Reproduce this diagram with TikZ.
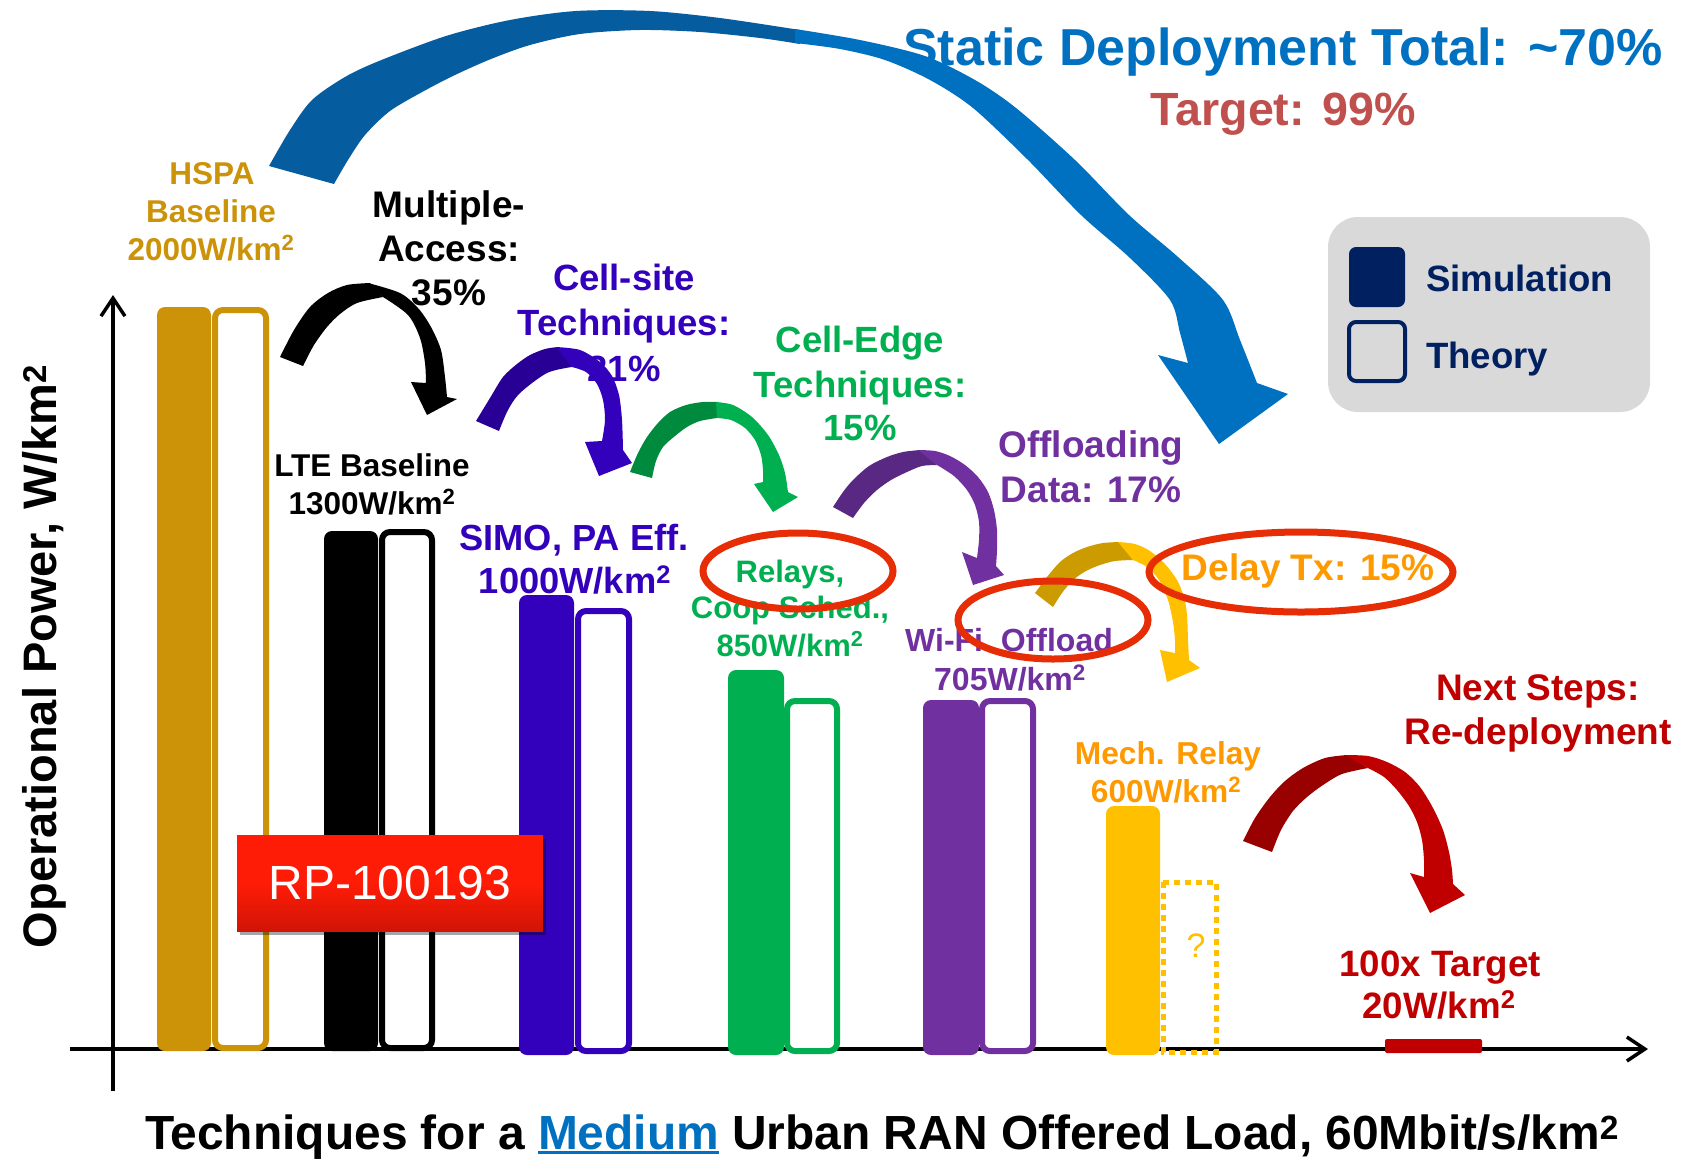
\documentclass[tikz,border=0pt]{standalone}
\usepackage{fontspec}
\setmainfont{Liberation Sans}
\usetikzlibrary{arrows.meta,shadows}

\definecolor{hspaGold}{RGB}{204,146,8}
\definecolor{simoBlue}{RGB}{51,0,187}
\definecolor{simoDark}{RGB}{40,0,150}
\definecolor{edgeGreen}{RGB}{0,176,80}
\definecolor{edgeDark}{RGB}{0,138,62}
\definecolor{offPurple}{RGB}{112,48,160}
\definecolor{offDark}{RGB}{88,40,130}
\definecolor{mechYellow}{RGB}{255,192,0}
\definecolor{mechDark}{RGB}{204,155,0}
\definecolor{mechOrange}{RGB}{255,153,0}
\definecolor{nextRed}{RGB}{192,0,0}
\definecolor{nextDark}{RGB}{153,0,0}
\definecolor{totalBlue}{RGB}{0,112,192}
\definecolor{totalDark}{RGB}{5,92,158}
\definecolor{targetRed}{RGB}{192,80,77}
\definecolor{ringRed}{RGB}{230,45,5}
\definecolor{legendGray}{RGB}{217,217,217}
\definecolor{navy}{RGB}{0,32,96}
\definecolor{rpTop}{RGB}{255,28,6}
\definecolor{rpBottom}{RGB}{208,20,6}

\newcommand\fs[1]{\fontsize{#1}{#1}\selectfont}
\newcommand\sqr{\textsuperscript{2}}
\newcommand\ulbox[1]{\setbox0=\hbox{#1}\rlap{\rule[-5pt]{\wd0}{3pt}}\box0}

\tikzset{
  lbl/.style={anchor=base, inner sep=0pt, outer sep=0pt},
  simbar/.style={rounded corners=8pt},
  thybar/.style={draw, line width=6pt, fill=white, rounded corners=8pt},
  axisline/.style={line width=3.5pt, -{Straight Barb[length=18pt,width=24pt]}},
  ring/.style={draw=ringRed, line width=7pt},
  rpbox/.style={minimum width=306pt, minimum height=96pt, inner sep=0pt,
    top color=rpTop, bottom color=rpBottom, middle color=rpTop, text=white,
    font=\fs{48},
    drop shadow={shadow xshift=3pt, shadow yshift=-4pt, opacity=0.35, fill=black}},
}

\begin{document}
\begin{tikzpicture}[x=1pt,y=-1pt]
\useasboundingbox (0,0) rectangle (1686,1160);

% ---------- axes ----------
\coordinate (ybot) at (113,1091);
\coordinate (ytop) at (113,295);
\coordinate (xleft) at (70,1049);
\coordinate (xright) at (1648,1049);
\draw[axisline] (ybot) -- (ytop);
\draw[axisline] (xleft) -- (xright);

% ---------- bars: simulation (filled) and theory (outlined) ----------
\fill[hspaGold, simbar] (157,307) rectangle (211,1051);
\draw[hspaGold, thybar] (215,310) rectangle (266,1048);
\fill[black, simbar] (324,531) rectangle (378,1051);
\draw[black, thybar] (382,532) rectangle (432,1048);
\fill[simoBlue, simbar] (519,595) rectangle (574,1055);
\draw[simoBlue, thybar] (578,611) rectangle (629,1051);
\fill[edgeGreen, simbar] (728,670) rectangle (784,1055);
\draw[edgeGreen, thybar] (787,701) rectangle (837,1051);
\fill[offPurple, simbar] (923,700) rectangle (979,1055);
\draw[offPurple, thybar] (982,701) rectangle (1033,1051);
\fill[mechYellow, simbar] (1106,806) rectangle (1160,1055);
\draw[mechYellow, line width=5pt, dash pattern=on 6pt off 5pt] (1163,882) rectangle (1216,1052);
\fill[nextRed, rounded corners=2pt] (1385,1039) rectangle (1482,1053);

% ---------- document tag ----------
\node[rpbox] (rp) at (390,883) {RP-100193};

% ---------- legend ----------
\fill[legendGray, rounded corners=30pt] (1328,217) rectangle (1650,412);
\fill[navy, rounded corners=7pt] (1349,247) rectangle (1405,307);
\draw[navy, line width=4pt, rounded corners=7pt] (1349,322) rectangle (1405,381);

% ---------- big curved arrow (static deployment total) ----------
\fill[totalDark] plot[smooth] coordinates {(269,166) (290,130) (312,100) (345,77) (379,61) (446,36) (510,20) (576,11) (650,11) (720,18) (800,30)}
  -- plot[smooth] coordinates {(800,44) (760,38) (700,32) (640,30) (580,34) (530,45) (491,59) (455,75) (424,91) (390,111) (365,135) (348,160) (334,184)} -- cycle;
\fill[totalBlue] plot[smooth] coordinates {(795,29) (860,40) (925,56) (975,80) (1016,108) (1075,160) (1129,215) (1178,257) (1223,300) (1240,340) (1257,383)}
  -- (1288,394) -- (1219,444) -- (1158,355)
  -- plot[smooth] coordinates {(1188,363) (1180,333) (1170,300) (1130,258) (1081,215) (1028,160) (973,108) (930,80) (885,60) (840,49) (795,43)} -- cycle;

% ---------- step arrows ----------
% multiple access
\fill[black] plot[smooth] coordinates {(280,357) (294,330) (310,307) (328,293) (347,285) (370,283)}
  -- plot[smooth] coordinates {(383,297) (357,303) (340,314) (327,327) (314,345) (303,366)} -- cycle;
\fill[black] plot[smooth] coordinates {(368,283) (400,293) (418,308) (431,327) (441,350) (445,377) (447,397)}
  -- (457,399) -- (427,415) -- (411,382)
  -- plot[smooth] coordinates {(426,383) (425,363) (420,338) (408,315) (383,297)} -- cycle;
% cell-site
\fill[simoDark] plot[smooth] coordinates {(476,421) (490,398) (503,377) (517,364) (530,355) (545,349) (558,347)}
  -- plot[smooth] coordinates {(572,367) (547,373) (520,393) (508,410) (499,431)} -- cycle;
\fill[simoBlue] plot[smooth] coordinates {(556,347) (580,350) (600,362) (612,376) (619,395) (622,420) (623,450)}
  -- (632,463) -- (599,476) -- (585,442)
  -- plot[smooth] coordinates {(602,441) (605,420) (603,400) (597,384) (586,372) (572,367)} -- cycle;
% cell-edge
\fill[edgeDark] plot[smooth] coordinates {(630,472) (638,453) (647,437) (658,423) (670,412) (686,405) (703,402) (718,402)}
  -- plot[smooth] coordinates {(717,418) (700,421) (687,427) (675,436) (663,447) (656,461) (652,478)} -- cycle;
\fill[edgeGreen] plot[smooth] coordinates {(716,402) (733,405) (752,417) (768,435) (779,455) (785,473) (788,492)}
  -- (798,497) -- (773,512) -- (754,484)
  -- plot[smooth] coordinates {(763,482) (763,470) (761,455) (755,440) (745,428) (731,420) (717,418)} -- cycle;
% offloading
\fill[offDark] plot[smooth] coordinates {(833,507) (843,492) (853,480) (869,466) (887,457) (903,452) (920,450)}
  -- plot[smooth] coordinates {(937,465) (922,466) (907,472) (891,480) (877,490) (864,503) (853,518)} -- cycle;
\fill[offPurple] plot[smooth] coordinates {(918,450) (935,451) (950,456) (965,465) (978,477) (988,492) (994,510) (997,530) (997,550) (996,566)}
  -- (1004,575) -- (973,585) -- (962,552)
  -- plot[smooth] coordinates {(977,558) (979,540) (979,522) (975,505) (967,490) (954,476) (937,465)} -- cycle;
% delay tx
\fill[mechDark] plot[smooth] coordinates {(1035,593) (1047,577) (1060,562) (1073,553) (1087,547) (1103,543) (1120,542)}
  -- plot[smooth] coordinates {(1133,560) (1115,561) (1100,565) (1086,571) (1073,580) (1062,593) (1053,607)} -- cycle;
\fill[mechYellow] plot[smooth] coordinates {(1118,542) (1135,544) (1150,551) (1165,564) (1177,580) (1184,597) (1187,615) (1188,640) (1189,660)}
  -- (1200,668) -- (1167,682) -- (1160,650)
  -- plot[smooth] coordinates {(1175,653) (1175,640) (1173,622) (1168,600) (1159,580) (1147,567) (1133,560)} -- cycle;
% next steps
\fill[nextDark] plot[smooth] coordinates {(1243,841) (1255,818) (1270,797) (1285,781) (1303,768) (1325,758) (1347,755)}
  -- plot[smooth] coordinates {(1368,768) (1342,774) (1323,785) (1307,797) (1293,811) (1281,830) (1272,852)} -- cycle;
\fill[nextRed] plot[smooth] coordinates {(1345,755) (1368,756) (1387,762) (1405,772) (1420,787) (1433,808) (1443,830) (1449,852) (1452,870) (1453,884)}
  -- (1465,895) -- (1430,913) -- (1410,873)
  -- plot[smooth] coordinates {(1424,877) (1424,860) (1422,840) (1417,822) (1409,806) (1397,790) (1384,777) (1368,768)} -- cycle;

% ---------- labels ----------
\begin{scope}[every node/.style={lbl}]
\node[hspaGold, font=\fs{31.5}\bfseries] (hspaA) at (212,184) {HSPA};
\node[hspaGold, font=\fs{31.5}\bfseries] (hspaB) at (211,222) {Baseline};
\node[hspaGold, font=\fs{31.5}\bfseries] (hspaC) at (211,260) {2000W/km\sqr};

\node[font=\fs{37}\bfseries] (maA) at (449,217) {Multiple-};
\node[font=\fs{37}\bfseries] (maB) at (449,261) {Access:};
\node[font=\fs{37}\bfseries] (maC) at (449,305) {35\%};

\node[simoBlue, font=\fs{36.5}\bfseries] (csA) at (624,290) {Cell-site};
\node[simoBlue, font=\fs{36.5}\bfseries] (csB) at (624,335) {Techniques:};
\node[simoBlue, font=\fs{36.5}\bfseries] (csC) at (624,381) {21\%};

\node[font=\fs{31.5}\bfseries] (lteA) at (372,476) {LTE Baseline};
\node[font=\fs{31.5}\bfseries] (lteB) at (372,514) {1300W/km\sqr};

\node[simoBlue, font=\fs{36.3}\bfseries] (simoA) at (574,550) {SIMO, PA Eff.};
\node[simoBlue, font=\fs{36.3}\bfseries] (simoB) at (575,593) {1000W/km\sqr};

\node[edgeGreen, font=\fs{36.5}\bfseries] (ceA) at (860,352) {Cell-Edge};
\node[edgeGreen, font=\fs{36.5}\bfseries] (ceB) at (860,397) {Techniques:};
\node[edgeGreen, font=\fs{36.5}\bfseries] (ceC) at (860,440) {15\%};

\node[offPurple, font=\fs{37}\bfseries] (odA) at (1091,457) {Offloading};
\node[offPurple, font=\fs{37}\bfseries] (odB) at (1091,502) {Data: 17\%};

\node[edgeGreen, font=\fs{31}\bfseries] (relA) at (790,582) {Relays,};
\node[edgeGreen, font=\fs{31}\bfseries] (relB) at (790,618) {Coop Sched.,};
\node[edgeGreen, font=\fs{31}\bfseries] (relC) at (790,656) {850W/km\sqr};

\node[offPurple, font=\fs{32}\bfseries] (wifiA) at (1009,651) {Wi-Fi\ \ Offload};
\node[offPurple, font=\fs{32}\bfseries] (wifiB) at (1010,690) {705W/km\sqr};

\node[mechOrange, font=\fs{37}\bfseries] (delay) at (1308,580) {Delay Tx: 15\%};

\node[mechOrange, font=\fs{31.7}\bfseries] (mechA) at (1168,764) {Mech. Relay};
\node[mechOrange, font=\fs{31.7}\bfseries] (mechB) at (1166,802) {600W/km\sqr};
\node[mechYellow, font=\fs{34}] (unknown) at (1196,957) {?};

\node[nextRed, font=\fs{37}\bfseries] (nextA) at (1538,700) {Next Steps:};
\node[nextRed, font=\fs{37}\bfseries] (nextB) at (1538,744) {Re-deployment};

\node[nextRed, font=\fs{36.7}\bfseries] (tgtA) at (1440,976) {100x Target};
\node[nextRed, font=\fs{36.7}\bfseries] (tgtB) at (1439,1018) {20W/km\sqr};

\node[totalBlue, font=\fs{52}\bfseries] (total) at (1283,65) {Static Deployment Total: \textasciitilde70\%};
\node[targetRed, font=\fs{46.6}\bfseries] (target) at (1283,125) {Target: 99\%};

\node[navy, anchor=base west, font=\fs{36.6}\bfseries] (legSim) at (1426,291) {Simulation};
\node[navy, anchor=base west, font=\fs{36.6}\bfseries] (legThy) at (1426,368) {Theory};

\node[anchor=base west, font=\fs{47.9}\bfseries] (xlab) at (145,1149)
  {Techniques for a {\color{totalBlue}\ulbox{Medium}} Urban RAN Offered Load, 60Mbit/s/km\sqr};
\node[anchor=base west, rotate=90, font=\fs{47}\bfseries] (ylab) at (56,948)
  {Operational Power, W/km\sqr};
\end{scope}

% ---------- highlight rings ----------
\draw[ring] (798,571) ellipse [x radius=95, y radius=38];
\draw[ring] (1053,620) ellipse [x radius=95, y radius=39];
\draw[ring] (1301,572) ellipse [x radius=152, y radius=40];
\end{tikzpicture}
\end{document}
